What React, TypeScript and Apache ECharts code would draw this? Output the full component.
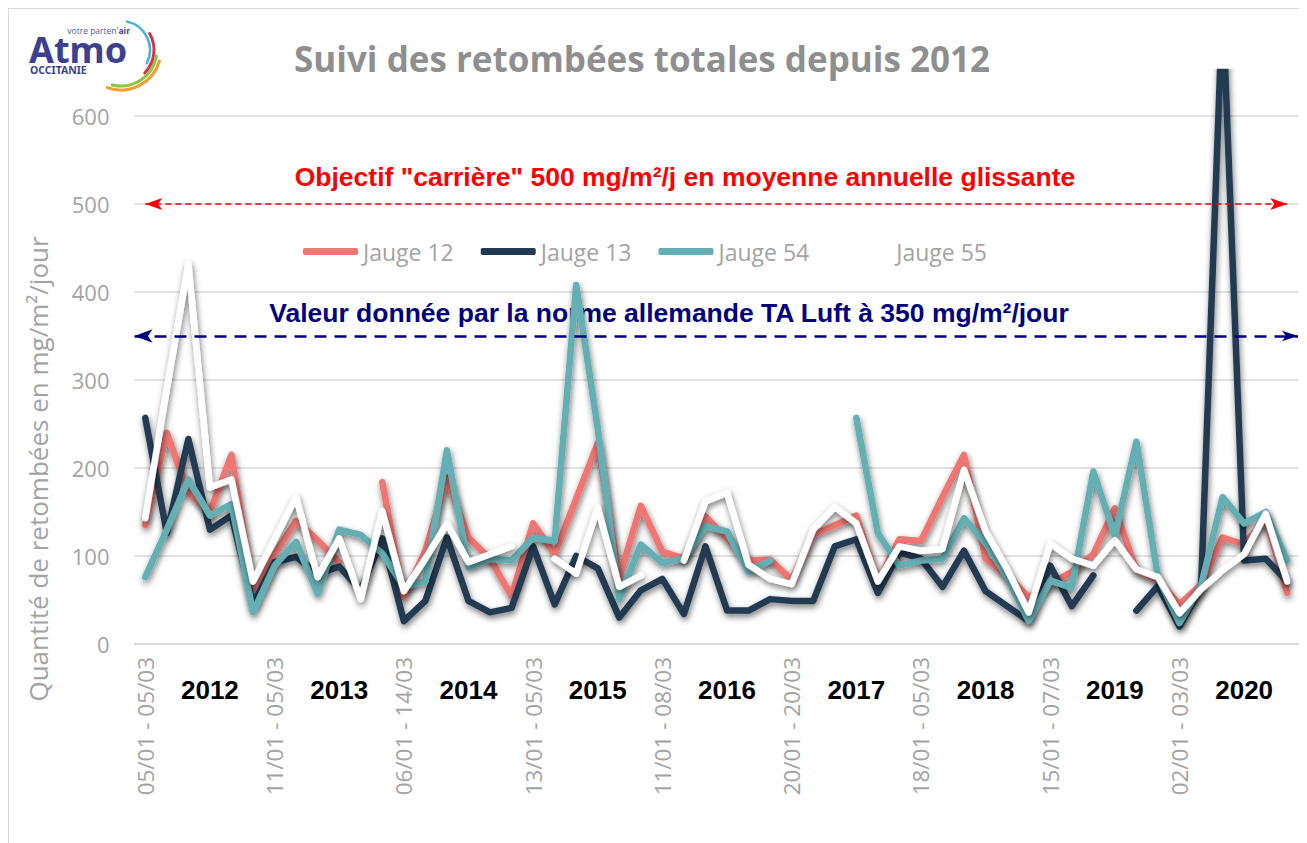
import React, { useEffect, useRef } from "react";
import * as echarts from "echarts";

// ---- Data ----
const yearLabels = ["2012", "2013", "2014", "2015", "2016", "2017", "2018", "2019", "2020"];
const periodLabels = [
  "05/01 - 05/03",
  "11/01 - 05/03",
  "06/01 - 14/03",
  "13/01 - 05/03",
  "11/01 - 08/03",
  "20/01 - 20/03",
  "18/01 - 05/03",
  "15/01 - 07/03",
  "02/01 - 03/03",
];
const samplesPerYear = 6;
// one category per sampling period; only the first period of each year is labelled in the source chart
const categories: string[] = [];
yearLabels.forEach((y, yi) => {
  for (let k = 0; k < samplesPerYear; k++) {
    categories.push(k === 0 ? periodLabels[yi] : `${y} (${k + 1})`);
  }
});

const jauge12 = [
  135, 240, 172, 150, 215, 62,
  102, 140, 118, 93, null, 184,
  53, 106, 189, 121, 97, 54,
  137, 102, 165, 228, 76, 157,
  105, 97, 145, 120, 95, 96,
  73, 124, 135, 146, 71, 119,
  117, 167, 215, 97, 78, 53,
  68, 82, 102, 154, 84, 72,
  45, 67, 121, 113, 143, 58,
];
const jauge13 = [
  257, 126, 233, 130, 146, 45,
  93, 99, 80, 88, 61, 120,
  26, 49, 121, 49, 36, 41,
  111, 45, 100, 86, 30, 61,
  74, 34, 111, 38, 38, 51,
  49, 49, 111, 119, 58, 104,
  97, 65, 106, 60, 43, 26,
  89, 43, 78, null, 38, 66,
  20, 64, 730, 95, 97, 71,
];
const jauge54 = [
  76, 130, 187, 146, 159, 36,
  89, 116, 57, 130, 124, 103,
  65, 71, 220, 87, 97, 95,
  121, 117, 408, 245, 51, 113,
  92, 97, 134, 128, 82, 95,
  null, null, null, 257, 126, 89,
  95, 97, 143, 115, 76, 26,
  72, 64, 196, 123, 230, 76,
  24, 66, 167, 137, 150, 95,
];
const jauge55 = [
  143, 290, 432, 178, 187, 71,
  119, 167, 76, 120, 51, 151,
  60, 97, 137, 93, 102, 111,
  null, 97, 80, 155, 65, 78,
  null, 95, 162, 172, 90, 74,
  68, 130, 156, 137, 71, 111,
  106, 108, 198, 128, 85, 36,
  114, 97, 89, 118, 85, 76,
  35, 62, 84, 102, 148, 71,
];

const objectiveCarriere = 500;
const taLuft = 350;
const yTicks = { min: 0, max: 650, interval: 100 };

const seriesDefs = [
  { name: "Jauge 12", data: jauge12, color: "#ef7672" },
  { name: "Jauge 13", data: jauge13, color: "#233b52" },
  { name: "Jauge 54", data: jauge54, color: "#63afb4" },
  { name: "Jauge 55", data: jauge55, color: "#ffffff" },
];

const grayText = "#a3a3a3";
const sans = "'Open Sans', 'Noto Sans', sans-serif";
const arial = "'Liberation Sans', Arial, sans-serif";

function buildOption() {
  const series: any[] = seriesDefs.map((s) => ({
    name: s.name,
    type: "line",
    data: s.data,
    xAxisIndex: 0,
    yAxisIndex: 0,
    symbol: "none",
    connectNulls: false,
    clip: true,
    emphasis: { disabled: true },
    itemStyle: { color: s.color },
    lineStyle: {
      color: s.color,
      width: 6.5,
      cap: "round",
      join: "round",
      shadowColor: "rgba(0,0,0,0.55)",
      shadowBlur: 6,
      shadowOffsetX: 1,
      shadowOffsetY: 3,
    },
  }));

  series[0].markLine = {
    silent: true,
    animation: false,
    label: { show: false },
    emphasis: { disabled: true },
    symbol: ["arrow", "arrow"],
    data: [
      [
        {
          coord: [categories[0], objectiveCarriere],
          symbol: "arrow",
          symbolSize: [9, 17],
          lineStyle: { color: "#ff0000", width: 1.5, type: [6, 4], shadowBlur: 0 },
        },
        {
          coord: [categories[categories.length - 1], objectiveCarriere],
          symbol: "arrow",
          symbolSize: [9, 17],
        },
      ],
      {
        yAxis: taLuft,
        symbol: "arrow",
        symbolSize: [10, 18],
        lineStyle: { color: "#000080", width: 2.5, type: [12, 8], shadowBlur: 0 },
      },
    ],
  };

  const gridBox = { left: 125.5, right: 9, top: 63, bottom: 199 };

  return {
    animation: false,
    backgroundColor: "#ffffff",
    title: {
      text: "Suivi des retombées totales depuis 2012",
      left: 280,
      top: 27,
      textStyle: { color: "#8f8f8f", fontSize: 35, fontWeight: "bold", fontFamily: sans },
    },
    legend: {
      left: 289,
      top: 226,
      icon: "roundRect",
      itemWidth: 55,
      itemHeight: 7,
      itemGap: 27,
      data: seriesDefs.map((s) => s.name),
      textStyle: { color: grayText, fontSize: 23, fontFamily: sans },
    },
    grid: [
      { ...gridBox, containLabel: false },
      { ...gridBox, containLabel: false },
    ],
    xAxis: [
      {
        type: "category",
        gridIndex: 0,
        data: categories,
        boundaryGap: true,
        axisLine: { lineStyle: { color: "#d9d9d9", width: 2 } },
        axisTick: { show: false },
        axisLabel: {
          interval: (i: number) => i % samplesPerYear === 0,
          rotate: 90,
          color: grayText,
          fontSize: 22.5,
          fontFamily: sans,
          margin: 13,
        },
      },
      {
        type: "category",
        gridIndex: 1,
        data: categories,
        boundaryGap: true,
        position: "bottom",
        axisLine: { show: false },
        axisTick: { show: false },
        splitLine: { show: false },
        axisLabel: {
          interval: 0,
          formatter: (_v: string, i: number) =>
            i % samplesPerYear === 3 ? yearLabels[Math.floor(i / samplesPerYear)] : "",
          color: "#000000",
          fontSize: 26,
          fontWeight: "bold",
          fontFamily: arial,
          margin: 33,
        },
      },
    ],
    yAxis: [
      {
        type: "value",
        gridIndex: 0,
        min: yTicks.min,
        max: yTicks.max,
        interval: yTicks.interval,
        axisLine: { show: false },
        axisTick: { show: false },
        axisLabel: { color: grayText, fontSize: 22, fontFamily: sans, margin: 25, showMaxLabel: false },
        splitLine: { show: true, showMaxLine: false, lineStyle: { color: "#d9d9d9", width: 1.5 } },
      },
      {
        type: "value",
        gridIndex: 1,
        min: 0,
        max: 1,
        show: false,
      },
    ],
    series,
    graphic: [
      // y axis title
      {
        type: "text",
        x: 29,
        y: 460,
        rotation: Math.PI / 2,
        style: {
          text: "Quantité de retombées en mg/m²/jour",
          font: `26px ${sans}`,
          fill: grayText,
          textAlign: "center",
          textVerticalAlign: "middle",
        },
      },
      // annotations
      {
        type: "text",
        x: 676,
        y: 168,
        style: {
          text: 'Objectif "carrière" 500 mg/m²/j en moyenne annuelle glissante',
          font: `bold 26.5px ${arial}`,
          fill: "#ff0000",
          textAlign: "center",
          textVerticalAlign: "middle",
        },
      },
      {
        type: "text",
        x: 660,
        y: 304,
        style: {
          text: "Valeur donnée par la norme allemande TA Luft à 350 mg/m²/jour",
          font: `bold 26.5px ${arial}`,
          fill: "#000080",
          textAlign: "center",
          textVerticalAlign: "middle",
        },
      },
      // logo
      {
        type: "text",
        x: 20,
        y: 40,
        style: {
          text: "Atmo",
          font: "bold 36px 'Noto Sans', sans-serif",
          lineHeight: 20,
          fill: "#3c3f92",
          textAlign: "left",
          textVerticalAlign: "middle",
        },
      },
      {
        type: "text",
        x: 121,
        y: 21,
        style: {
          text: "{a|votre parten'}{b|air}",
          lineHeight: 8,
          rich: {
            a: { fontSize: 8.5, lineHeight: 8, fontFamily: sans, fill: "#555a99" },
            b: { fontSize: 8.5, lineHeight: 8, fontFamily: sans, fontWeight: "bold", fill: "#3c3f92" },
          },
          textAlign: "right",
          textVerticalAlign: "middle",
        },
      },
      {
        type: "text",
        x: 21,
        y: 61,
        style: {
          text: "OCCITANIE",
          font: "bold 10.5px 'Noto Sans', sans-serif",
          lineHeight: 9,
          fill: "#3c3f92",
          textAlign: "left",
          textVerticalAlign: "middle",
        },
      },
      {
        type: "arc",
        shape: { cx: 112, cy: 41, r: 29, startAngle: (-78 * Math.PI) / 180, endAngle: (27 * Math.PI) / 180, clockwise: true },
        style: { stroke: "#3fb5d8", lineWidth: 2.5, fill: null, lineCap: "round" },
      },
      {
        type: "arc",
        shape: { cx: 112, cy: 41, r: 33, startAngle: (-30 * Math.PI) / 180, endAngle: (44 * Math.PI) / 180, clockwise: true },
        style: { stroke: "#d6334b", lineWidth: 3, fill: null, lineCap: "round" },
      },
      {
        type: "arc",
        shape: { cx: 112, cy: 41, r: 36, startAngle: (10 * Math.PI) / 180, endAngle: (104 * Math.PI) / 180, clockwise: true },
        style: { stroke: "#8dc63f", lineWidth: 3, fill: null, lineCap: "round" },
      },
      {
        type: "arc",
        shape: { cx: 112, cy: 41, r: 40, startAngle: (16 * Math.PI) / 180, endAngle: (110 * Math.PI) / 180, clockwise: true },
        style: { stroke: "#f39c32", lineWidth: 3, fill: null, lineCap: "round" },
      },
    ],
  };
}

export default function App() {
  const ref = useRef<HTMLDivElement>(null);
  useEffect(() => {
    document.documentElement.style.overflow = "hidden";
    const chart = echarts.init(ref.current!, undefined, { renderer: "svg" });
    chart.setOption(buildOption() as any);
    return () => chart.dispose();
  }, []);
  return (
    <div
      style={{
        width: 1299,
        height: 835,
        borderTop: "1px solid #d9d9d9",
        borderLeft: "1px solid #d9d9d9",
        boxSizing: "border-box",
      }}
    >
      <div ref={ref} style={{ width: 1298, height: 834 }} />
    </div>
  );
}
